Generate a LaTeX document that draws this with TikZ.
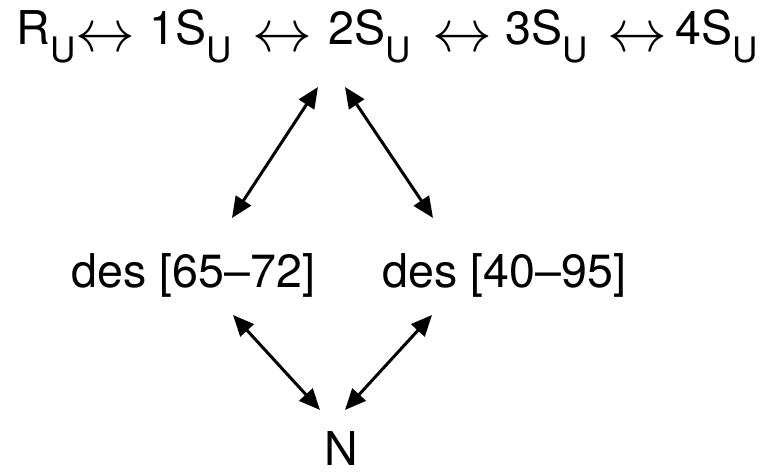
\documentclass[tikz,border=0pt]{standalone}
\usepackage{fix-cm}
\usepackage{fontspec}
\setmainfont{TeX Gyre Heros}
\usetikzlibrary{arrows.meta}
\newcommand{\subU}{\raisebox{-0.36cm}{\fontsize{20}{20}\selectfont U}}

\begin{document}
\begin{tikzpicture}[
    lbl/.style={anchor=base, inner sep=0pt, font=\fontsize{26.5}{30}\selectfont},
    eqv/.style={lbl, font=\fontsize{34}{36}\selectfont},
    link/.style={line width=1.7pt, {Triangle[length=0.42cm,width=0.36cm]}-{Triangle[length=0.42cm,width=0.36cm]}}
]
    \useasboundingbox (0,0) rectangle (15.3,9.48);

    % top row: R_U <-> 1S_U <-> ... <-> 4S_U
    \node[lbl] (r)   at (0.92,8.58)  {R\subU};
    \node[eqv] (eq1) at (2.10,8.44)  {$\leftrightarrow$};
    \node[lbl] (one) at (3.82,8.58)  {1S\subU};
    \node[eqv] (eq2) at (5.64,8.44)  {$\leftrightarrow$};
    \node[lbl] (two) at (7.40,8.58)  {2S\subU};
    \node[eqv] (eq3) at (9.24,8.44)  {$\leftrightarrow$};
    \node[lbl] (three) at (10.94,8.58) {3S\subU};
    \node[eqv] (eq4) at (12.74,8.44) {$\leftrightarrow$};
    \node[lbl] (four) at (14.34,8.58) {4S\subU};

    % middle row and N
    \node[lbl] (desA) at (3.87,3.72) {des [65--72]};
    \node[lbl] (desB) at (10.09,3.72) {des [40--95]};
    \node[lbl] (n) at (6.82,0.17) {N};

    \draw[link] ([shift={(-1.04,-0.84)}]two.base) -- ([shift={(0.77,1.40)}]desA.base);
    \draw[link] ([shift={(-0.50,-0.84)}]two.base) -- ([shift={(-1.43,1.40)}]desB.base);
    \draw[link] ([shift={(0.79,-0.54)}]desA.base) -- ([shift={(-0.42,1.11)}]n.base);
    \draw[link] ([shift={(-1.45,-0.54)}]desB.base) -- ([shift={(0.08,1.11)}]n.base);
\end{tikzpicture}
\end{document}
